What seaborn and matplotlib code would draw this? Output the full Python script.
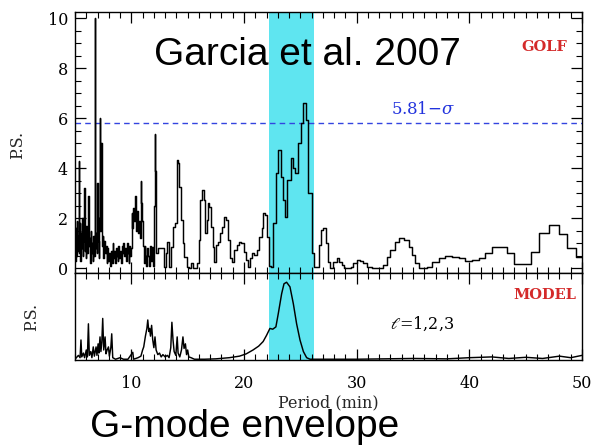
import numpy as np
import pandas as pd
import matplotlib
matplotlib.use("Agg")
import matplotlib.pyplot as plt
from matplotlib.ticker import MultipleLocator, NullLocator
import seaborn as sns

# ---------------- data ----------------
# GOLF power spectrum (step curve: left edge of each bin, power)
golf_period = [
    5.00, 5.05, 5.10, 5.15, 5.20, 5.27, 5.32, 5.37, 5.42, 5.48, 5.53, 5.58, 5.63, 5.68, 5.73,
    5.80, 5.85, 5.90, 5.96, 6.02, 6.08, 6.14, 6.20, 6.26, 6.32, 6.38, 6.45, 6.52, 6.58, 6.64,
    6.70, 6.76, 6.81, 6.86, 6.92, 6.97, 7.03, 7.09, 7.15, 7.20, 7.26, 7.32, 7.38, 7.45, 7.52,
    7.58, 7.65, 7.72, 7.80, 7.88, 7.95, 8.02, 8.10, 8.18, 8.25, 8.33, 8.40, 8.48, 8.55, 8.62,
    8.70, 8.78, 8.85, 8.92, 9.00, 9.08, 9.15, 9.22, 9.30, 9.38, 9.45, 9.52, 9.60, 9.68, 9.75,
    9.82, 9.90, 9.95, 10.02, 10.10, 10.17, 10.24, 10.31, 10.38, 10.45, 10.52, 10.60, 10.68,
    10.76, 10.84, 10.90, 10.96, 11.03, 11.10, 11.17, 11.24, 11.32, 11.40, 11.48, 11.56, 11.64,
    11.72, 11.80, 11.88, 11.95, 12.02, 12.08, 12.14, 12.20,
    12.26, 12.41, 12.62, 12.92, 13.06, 13.21, 13.36, 13.51, 13.72, 13.90, 14.01, 14.13, 14.25,
    14.40, 14.55, 14.70, 14.90, 15.08, 15.26, 15.44, 15.62, 15.79, 15.97, 16.09, 16.27, 16.42,
    16.57, 16.68, 16.80, 16.92, 17.10, 17.22, 17.37, 17.51, 17.69, 17.87, 18.05, 18.23, 18.41,
    18.58, 18.76, 18.94, 19.15, 19.35, 19.53, 19.77, 20.01, 20.19, 20.36, 20.54, 20.72, 20.93,
    21.14, 21.37, 21.58, 21.70, 21.90, 22.08, 22.20, 22.40, 22.59, 22.80, 23.03, 23.24, 23.48,
    23.63, 23.86, 24.16, 24.37, 24.52, 24.75, 25.05, 25.26, 25.47, 25.70, 26.00, 26.24, 26.65,
    26.83, 27.04, 27.25, 27.42, 27.63, 27.93, 28.23, 28.43, 28.67, 28.91, 29.50, 29.71, 30.01,
    30.30, 30.60, 30.90, 31.34, 32.38, 32.68, 32.97, 33.36, 33.72, 34.16, 34.61, 34.90, 35.20,
    35.50, 36.24, 36.68, 37.28, 37.87, 38.46, 39.06, 39.65, 40.24, 40.84, 41.43, 42.02, 43.36,
    43.95, 45.44, 46.18, 47.07, 47.96, 48.70, 49.44, 50.10,
]
golf_power = [
    0.3, 1.6, 0.5, 1.9, 0.7, 1.3, 4.3, 0.6, 1.8, 0.3, 1.4, 0.8, 2.0, 0.5, 1.1,
    3.2, 0.7, 1.5, 0.4, 1.7, 0.6, 2.9, 0.9, 1.2, 0.2, 1.5, 0.6, 1.0, 0.3, 1.3,
    0.5, 10.0, 0.8, 1.4, 0.6, 3.4, 1.1, 0.4, 2.0, 6.0, 1.5, 5.0, 0.9, 1.3, 0.4,
    1.1, 0.6, 0.9, 0.2, 0.8, 0.3, 0.6, 0.1, 0.7, 0.2, 1.0, 0.4, 0.7, 0.2, 0.8,
    0.5, 0.3, 0.9, 0.4, 0.7, 0.2, 0.9, 0.6, 1.0, 0.5, 0.8, 0.3, 1.0, 0.6, 0.2,
    0.9, 0.5, 0.8, 2.2, 1.6, 2.4, 1.9, 2.9, 2.0, 1.5, 2.3, 1.4, 1.9,
    1.2, 3.5, 2.6, 1.9, 0.9, 0.2, 0.9, 0.5, 0.1, 0.8, 0.5, 0.1, 0.9,
    0.3, 0.85, 0.4, 0.1, 2.5, 5.35, 3.9, 0.6,
    0.59, 0.79, 0.81, 0.05, 0.59, 1.05, 0.05, 0.85, 1.65, 1.79, 4.32, 4.19, 3.25,
    1.92, 0.99, 0.45, 0.05, 0.0, 0.19, 0.0, 0.02, 0.19, 1.12, 2.72, 3.12, 2.72,
    1.39, 1.92, 2.59, 2.45, 1.65, 0.85, 0.25, 0.92, 1.05, 1.39, 1.65, 2.05, 1.92,
    1.12, 0.39, 0.25, 0.72, 0.92, 1.05, 0.99, 0.65, 0.32, 0.05, 0.39, 0.59, 0.52,
    0.72, 1.25, 1.59, 2.19, 2.12, 1.25, 0.10, 0.05, 1.79, 3.79, 4.72, 3.65, 2.72,
    2.05, 3.52, 4.39, 3.99, 3.79, 4.99, 5.79, 6.59, 5.92, 2.99, 0.59, 0.05, 0.92,
    1.52, 1.59, 0.99, 0.25, 0.0, 0.25, 0.39, 0.25, 0.12, 0.0, 0.05, 0.19, 0.32,
    0.29, 0.19, 0.05, 0.0, 0.12, 0.45, 0.72, 1.05, 1.19, 1.12, 0.85, 0.52, 0.19,
    0.0, 0.05, 0.25, 0.39, 0.48, 0.45, 0.39, 0.29, 0.32, 0.39, 0.59, 0.83, 0.59,
    0.16, 0.65, 1.39, 1.72, 1.36, 0.79, 0.43, 0.43,
]

# Model spectrum (l = 1,2,3), normalised
model_period = [
    5.00, 5.30, 5.45, 5.53, 5.60, 5.75, 5.85, 6.00, 6.10, 6.19, 6.27, 6.40, 6.50, 6.62, 6.72,
    6.87, 6.95, 7.05, 7.12, 7.22, 7.30, 7.38, 7.46, 7.55, 7.67, 7.75, 7.85, 7.97, 8.05, 8.18,
    8.26, 8.35, 8.60, 9.00, 9.30, 9.70, 10.13, 10.20, 10.60, 10.85, 11.00, 11.10, 11.25, 11.38,
    11.46, 11.55, 11.62, 11.70, 11.80, 11.90, 12.00, 12.10, 12.20, 12.35, 12.50, 12.65, 12.80,
    13.00, 13.20, 13.35, 13.50, 13.60, 13.70, 13.80, 13.95, 14.07, 14.15, 14.30, 14.45, 14.58,
    14.68, 14.80, 14.90, 15.00, 15.10, 15.30, 15.60, 16.50, 17.50, 18.70, 19.60, 20.20, 20.80,
    21.30, 21.70, 22.00, 22.30, 22.55, 22.83, 23.04, 23.34, 23.55, 23.78, 24.08, 24.38, 24.67,
    24.97, 25.27, 25.56, 25.86, 30.00, 35.00, 38.00, 40.00, 42.00, 43.50, 45.00, 46.50, 48.00,
    49.00, 50.00,
]
model_power = [
    0.0, 0.05, 0.02, 0.25, 0.03, 0.08, 0.02, 0.12, 0.03, 0.46, 0.05, 0.10, 0.02, 0.16, 0.04,
    0.16, 0.05, 0.20, 0.08, 0.29, 0.10, 0.22, 0.53, 0.12, 0.29, 0.07, 0.12, 0.16, 0.04, 0.15,
    0.33, 0.02, 0.0, 0.02, 0.0, 0.0, 0.09, 0.0, 0.02, 0.04, 0.12, 0.16, 0.30, 0.40,
    0.51, 0.36, 0.40, 0.30, 0.44, 0.25, 0.15, 0.29, 0.12, 0.06, 0.08, 0.03, 0.06,
    0.03, 0.05, 0.02, 0.15, 0.48, 0.25, 0.10, 0.05, 0.29, 0.08, 0.03, 0.12, 0.29,
    0.14, 0.20, 0.06, 0.12, 0.03, 0.02, 0.0, 0.0, 0.005, 0.02, 0.04, 0.07, 0.12,
    0.17, 0.23, 0.31, 0.40, 0.39, 0.42, 0.59, 0.85, 0.98, 1.00, 0.94, 0.72, 0.46,
    0.25, 0.10, 0.02, 0.0, 0.0, 0.01, 0.005, 0.02, 0.03, 0.01, 0.025, 0.01, 0.04,
    0.02, 0.05,
]

band = [22.2, 26.2]
sigma_level = 5.81
x_ticks = [10, 20, 30, 40, 50]
y_ticks = [0, 2, 4, 6, 8, 10]

# ---------------- style ----------------
sns.set_style("ticks")
plt.rcParams["font.family"] = ["DejaVu Serif", "DejaVu Sans"]
plt.rcParams["mathtext.fontset"] = "dejavuserif"

W, H = 595, 445
fig = plt.figure(figsize=(W / 100, H / 100), dpi=100)

def axrect(l, t, r, b):
    return [l / W, 1 - b / H, (r - l) / W, (b - t) / H]

ax1 = fig.add_axes(axrect(75, 12, 582, 273))
ax2 = fig.add_axes(axrect(75, 273, 582, 360))

cyan = "#5fe5f0"
for ax in (ax1, ax2):
    ax.axvspan(band[0], band[1], color=cyan, lw=0, zorder=0)

golf_df = pd.DataFrame({"period": golf_period, "power": golf_power})
model_df = pd.DataFrame({"period": model_period, "power": model_power})

sns.lineplot(data=golf_df, x="period", y="power", ax=ax1, color="black",
             lw=1.05, drawstyle="steps-post", estimator=None, sort=False, zorder=3)
sns.lineplot(data=model_df, x="period", y="power", ax=ax2, color="black",
             lw=1.05, estimator=None, sort=False, zorder=3)

ax1.axhline(sigma_level, color="#3344e0", lw=1.0, ls=(0, (4, 3)), zorder=2)

ax1.set_xlim(5, 50)
ax2.set_xlim(5, 50)
ax1.set_ylim(-0.2, 10.25)
ax2.set_ylim(-0.01, 1.12)

for ax in (ax1, ax2):
    for s in ax.spines.values():
        s.set_color("black")
        s.set_linewidth(1.0)
        s.set_visible(True)
    ax.xaxis.set_major_locator(MultipleLocator(10))
    ax.xaxis.set_minor_locator(MultipleLocator(1))
    ax.tick_params(which="both", direction="in", top=True, colors="black")
    ax.tick_params(which="major", length=8, width=0.9)
    ax.tick_params(which="minor", length=4, width=0.8)

ax1.set_yticks(y_ticks)
ax1.yaxis.set_minor_locator(MultipleLocator(0.5))
ax1.tick_params(axis="y", which="both", right=True, labelsize=11.5, pad=5)
ax1.tick_params(axis="x", labelbottom=False)

ax2.yaxis.set_major_locator(NullLocator())
ax2.yaxis.set_minor_locator(NullLocator())
ax2.set_xticks(x_ticks)
ax2.tick_params(axis="x", labelsize=11.5, pad=11)

ax1.set_ylabel("P.S.", fontsize=11.5)
ax1.yaxis.set_label_coords(-0.097, 0.49)
ax2.set_ylabel("P.S.", fontsize=11.5)
ax2.yaxis.set_label_coords(-0.069, 0.49)
ax1.set_xlabel("")
ax2.set_xlabel("Period (min)", fontsize=11.5)
ax2.xaxis.set_label_coords(0.5, -0.40)

ax1.text(0.926, 0.864, "GOLF", transform=ax1.transAxes, color="#d42a2a",
         fontsize=10.5, fontweight="bold", ha="center", va="center")
ax1.text(0.686, 0.625, "5.81$-\\sigma$", transform=ax1.transAxes, color="#2233dd",
         fontsize=12, ha="center", va="center")
ax2.text(0.926, 0.75, "MODEL", transform=ax2.transAxes, color="#d42a2a",
         fontsize=10.5, fontweight="bold", ha="center", va="center")
ax2.text(0.684, 0.42, "$\\ell$=1,2,3", transform=ax2.transAxes, color="black",
         fontsize=11.5, ha="center", va="center")

fig.text(307 / W, 1 - 65 / H, "Garcia et al. 2007", family=["Liberation Sans"],
         fontsize=28, ha="center", va="baseline", color="black", zorder=10)
fig.text(245 / W, 1 - 437 / H, "G-mode envelope", family=["Liberation Sans"],
         fontsize=28, ha="center", va="baseline", color="black", zorder=10)

fig.savefig("out.png", dpi=100)
